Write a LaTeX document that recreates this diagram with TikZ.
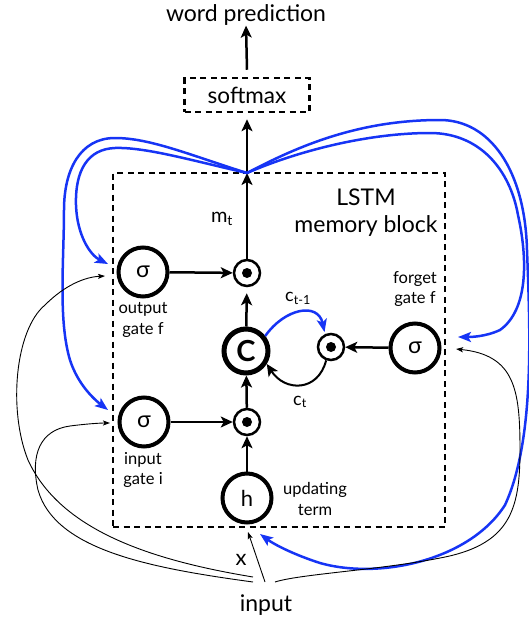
\documentclass[tikz,border=0pt]{standalone}
\usepackage{fontspec}
\setmainfont{Lato}
\usetikzlibrary{arrows.meta,calc}
\definecolor{myblue}{RGB}{22,52,245}
\begin{document}
\begin{tikzpicture}[x=1pt,y=-1pt,
  gate/.style={circle,draw,line width=4pt,minimum size=49pt,inner sep=0pt,font=\fontsize{23}{24}\selectfont},
  bigc/.style={circle,draw,line width=5pt,minimum size=44pt,inner sep=0pt,font=\fontsize{29}{30}\selectfont\bfseries},
  mult/.style={circle,draw,line width=2.5pt,minimum size=26pt,inner sep=0pt,
    path picture={\fill (path picture bounding box.center) circle (5pt);}},
  dashbox/.style={draw,line width=2.5pt,dash pattern=on 6pt off 4.5pt},
  thickarr/.style={line width=2.5pt,-{Stealth[length=12pt,width=11pt,inset=3pt]}},
  bluearr/.style={myblue,line width=2.5pt,-{Stealth[length=13pt,width=10pt,inset=3pt]}},
  thinarr/.style={black,line width=0.9pt,-{Stealth[length=7pt,width=5pt,inset=1.5pt]}},
  lab/.style={font=\fontsize{16.5}{20.5}\selectfont,align=center,inner sep=0pt},
  biglab/.style={font=\fontsize{23}{26}\selectfont,inner sep=0pt}
]
\useasboundingbox (0,0) rectangle (529,621);

% texts
\node[biglab] (pred) at (246,15) {word prediction};
\node[dashbox,minimum width=125pt,minimum height=34pt,font=\fontsize{22.5}{24}\selectfont] (soft) at (247,95) {softmax};
\node[dashbox,minimum width=332pt,minimum height=354pt] (block) at (279,350) {};
\node[biglab] (lstm) at (366,197) {LSTM};
\node[biglab] (memb) at (366,226) {memory block};

% nodes
\node[gate] (outS) at (143,272) {σ};
\node[mult] (outM) at (247,273) {};
\node[bigc] (C) at (246,351) {C};
\node[gate] (fS) at (415,348) {σ};
\node[mult] (fM) at (331,347) {};
\node[gate] (inS) at (144,422) {σ};
\node[mult] (inM) at (247,422) {};
\node[gate,font=\fontsize{22}{24}\selectfont] (h) at (247,498) {h};

\coordinate (T) at (247,173);

% labels
\node[lab] (outL) at (143,320) {output\\gate f};
\node[lab] (inL) at (143,470) {input\\gate i};
\node[lab] (upL) at (315,499) {updating\\term};
\node[lab] (fL) at (415,289) {forget\\gate f};
\node[font=\fontsize{20}{22}\selectfont,inner sep=0pt] (mt) at (222,219) {m\textsubscript{t}};
\node[font=\fontsize{18}{20}\selectfont,inner sep=0pt] (ctm) at (298,298) {c\textsubscript{t-1}};
\node[font=\fontsize{18}{20}\selectfont,inner sep=0pt] (ct) at (300,402) {c\textsubscript{t}};
\node[font=\fontsize{22}{24}\selectfont,inner sep=0pt] (xl) at (241,560) {x};
\node[biglab] (inp) at (266,605) {input};

% thick black arrows
\draw[thickarr] (soft.north) ++(0,-7) -- (pred.south);
\draw[thickarr] (T) -- ($(soft.south)+(0,6)$);
\draw[thickarr] (outM) -- (T);
\draw[thickarr] (outS) -- (outM);
\draw[thickarr,shorten >=6pt] (C) -- (outM);
\draw[thickarr] (inS) -- (inM);
\draw[thickarr] (inM) -- (C);
\draw[thickarr] (h) -- (inM);
\draw[thickarr] (fS) -- (fM);

% recurrent cell loop
\draw[bluearr,shorten >=2pt] (C.38) .. controls (285,308) and (318,302) .. (fM.115);
\draw[thickarr,line width=2pt] (fM.250) .. controls (318,392) and (285,392) .. (C.-32);

% blue feedback curves
\draw[bluearr] (T) .. controls (190,160) and (145,147) .. (115,148)
  .. controls (88,149) and (75,170) .. (76,205)
  .. controls (77,235) and (90,255) .. (108,264);
\draw[bluearr] (T) .. controls (190,155) and (150,138) .. (115,138)
  .. controls (80,138) and (64,170) .. (64,210)
  .. controls (64,260) and (58,320) .. (70,360)
  .. controls (78,385) and (95,400) .. (108,410);
\draw[bluearr] (T) .. controls (300,150) and (370,133) .. (430,133)
  .. controls (480,133) and (510,170) .. (518,215)
  .. controls (528,260) and (528,310) .. (500,330)
  .. controls (485,337) and (470,337) .. (458,337);
\draw[bluearr] (T) .. controls (300,145) and (360,120) .. (440,120)
  .. controls (490,120) and (525,170) .. (527,250)
  .. controls (530,330) and (535,440) .. (505,505)
  .. controls (470,560) and (380,580) .. (320,563)
  .. controls (295,555) and (275,545) .. (260,534);

% thin input curves
\coordinate (s1) at (253,577);
\coordinate (s2) at (253,582);
\coordinate (s3) at (265,582);
\coordinate (s4) at (275,582);
\draw[thinarr] (s1) .. controls (150,560) and (60,530) .. (28,460)
  .. controls (8,410) and (15,330) .. (45,305)
  .. controls (65,285) and (85,277) .. (105,276);
\draw[thinarr] (s2) .. controls (150,568) and (55,550) .. (38,490)
  .. controls (30,455) and (40,430) .. (70,426)
  .. controls (85,424) and (100,423) .. (110,423);
\draw[thinarr] (s3) -- (248,532);
\draw[thinarr] (s4) .. controls (300,574) and (380,570) .. (440,558)
  .. controls (510,545) and (520,510) .. (520,450)
  .. controls (520,390) and (515,355) .. (456,349);
\end{tikzpicture}
\end{document}
